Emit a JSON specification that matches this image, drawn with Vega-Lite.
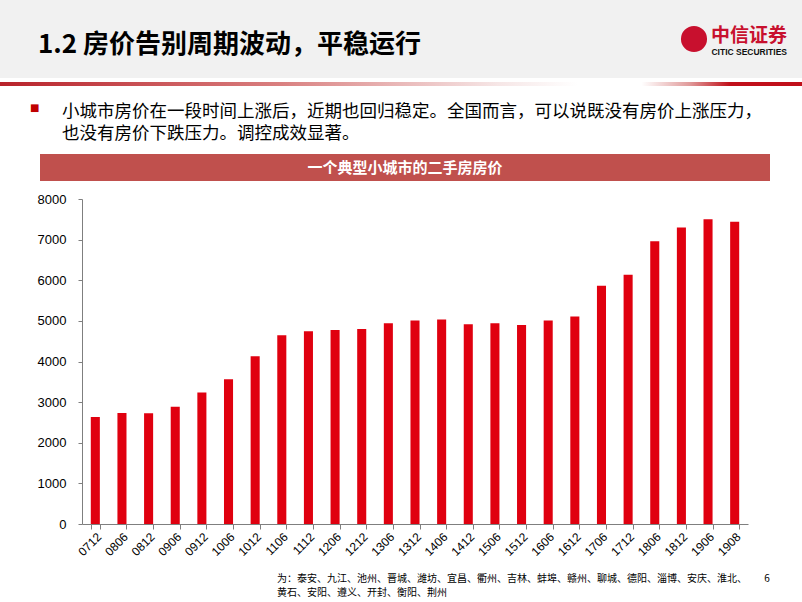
{
  "$schema": "https://vega.github.io/schema/vega-lite/v6.json",
  "background": "white",
  "padding": 0,
  "spacing": 13,
  "config": {
    "view": {"stroke": null},
    "font": "Liberation Sans, Noto Sans CJK SC",
    "title": {"frame": "group"}
  },
  "vconcat": [
    {
      "spacing": 0,
      "vconcat": [
        {
          "spacing": 0,
          "hconcat": [
            {
              "width": 586,
              "height": 78,
              "view": {"fill": "#f1f1f1", "stroke": null},
              "data": {"values": [{"t": ""}]},
              "mark": {"type": "text"},
              "encoding": {"text": {"field": "t"}},
              "title": {
                "text": "1.2 房价告别周期波动，平稳运行",
                "orient": "bottom",
                "anchor": "start",
                "offset": -46,
                "dx": 38,
                "fontSize": 26,
                "fontWeight": "bold",
                "color": "#000000",
                "font": "Noto Sans CJK SC"
              }
            },
            {
              "width": 216,
              "height": 78,
              "view": {"fill": "#f1f1f1", "stroke": null},
              "data": {"values": [{"k": "logo"}]},
              "mark": {"type": "point", "shape": "circle", "filled": true, "size": 680, "color": "#c8102e", "opacity": 1},
              "encoding": {},
              "title": {
                "text": "中信证券",
                "subtitle": "CITIC SECURITIES",
                "orient": "bottom",
                "anchor": "end",
                "offset": -51,
                "dx": -15,
                "fontSize": 19,
                "fontWeight": "bold",
                "color": "#c8102e",
                "font": "Noto Sans CJK SC",
                "subtitleFontSize": 8.5,
                "subtitleFontWeight": "bold",
                "subtitleColor": "#111111",
                "subtitleFont": "Liberation Sans",
                "subtitlePadding": 2
              }
            }
          ]
        },
        {
          "width": 802,
          "height": 4,
          "view": {
            "stroke": null,
            "fill": {
              "gradient": "linear",
              "x1": 0, "y1": 0, "x2": 1, "y2": 0,
              "stops": [
                {"offset": 0, "color": "#b8222a"},
                {"offset": 0.35, "color": "#d98080"},
                {"offset": 0.62, "color": "#f6e6e6"},
                {"offset": 0.72, "color": "#ffffff"},
                {"offset": 0.8, "color": "#ffffff"},
                {"offset": 0.86, "color": "#e09a9a"},
                {"offset": 0.91, "color": "#c0101a"},
                {"offset": 1, "color": "#c0101a"}
              ]
            }
          },
          "data": {"values": [{"t": ""}]},
          "mark": {"type": "text"},
          "encoding": {"text": {"field": "t"}}
        }
      ]
    },
    {
      "spacing": 12,
      "vconcat": [
        {
          "spacing": 0,
          "hconcat": [
            {
              "width": 40,
              "height": 27,
              "data": {"values": [{"t": ""}]},
              "mark": {"type": "text"},
              "encoding": {"text": {"field": "t"}},
              "title": {
                "text": "■",
                "orient": "top",
                "anchor": "start",
                "offset": 41,
                "dx": 30,
                "fontSize": 10,
                "fontWeight": "normal",
                "color": "#c00000",
                "font": "DejaVu Sans"
              }
            },
            {
              "width": 730,
              "height": 27,
              "view": {"fill": "#c0504d", "stroke": null},
              "data": {"values": [{"t": "一个典型小城市的二手房房价"}]},
              "mark": {"type": "text", "color": "#ffffff", "fontSize": 15, "fontWeight": "bold", "font": "Noto Sans CJK SC"},
              "encoding": {"text": {"field": "t"}},
              "title": {
                "text": ["小城市房价在一段时间上涨后，近期也回归稳定。全国而言，可以说既没有房价上涨压力，", "也没有房价下跌压力。调控成效显著。"],
                "orient": "top",
                "anchor": "start",
                "offset": 12,
                "dx": 22,
                "fontSize": 17.5,
                "fontWeight": "normal",
                "lineHeight": 22,
                "color": "#000000",
                "font": "Noto Sans CJK SC"
              }
            }
          ]
        },
        {
          "spacing": 0,
          "hconcat": [
            {
              "width": 1,
              "height": 1,
              "data": {"values": [{"t": ""}]},
              "mark": {"type": "text"},
              "encoding": {"text": {"field": "t"}}
            },
            {
              "width": 666,
              "height": 325,
              "data": {
                "values": [
                  {"t": "0712", "v": 2635},
                  {"t": "0806", "v": 2734},
                  {"t": "0812", "v": 2724},
                  {"t": "0906", "v": 2889},
                  {"t": "0912", "v": 3234},
                  {"t": "1006", "v": 3562},
                  {"t": "1012", "v": 4128},
                  {"t": "1106", "v": 4645},
                  {"t": "1112", "v": 4744},
                  {"t": "1206", "v": 4778},
                  {"t": "1212", "v": 4803},
                  {"t": "1306", "v": 4941},
                  {"t": "1312", "v": 5007},
                  {"t": "1406", "v": 5035},
                  {"t": "1412", "v": 4916},
                  {"t": "1506", "v": 4941},
                  {"t": "1512", "v": 4901},
                  {"t": "1606", "v": 5007},
                  {"t": "1612", "v": 5106},
                  {"t": "1706", "v": 5862},
                  {"t": "1712", "v": 6133},
                  {"t": "1806", "v": 6961},
                  {"t": "1812", "v": 7298},
                  {"t": "1906", "v": 7502},
                  {"t": "1908", "v": 7438}
                ]
              },
              "mark": {"type": "bar", "color": "#e0000f"},
              "encoding": {
                "x": {
                  "field": "t",
                  "type": "ordinal",
                  "sort": null,
                  "scale": {"paddingInner": 0.66, "paddingOuter": 0.33},
                  "axis": {
                    "title": null,
                    "labelAngle": -45,
                    "tickBand": "extent",
                    "labelFontSize": 12,
                    "labelColor": "#000000",
                    "domainColor": "#7f7f7f",
                    "tickColor": "#7f7f7f",
                    "tickSize": 5,
                    "labelPadding": 2
                  }
                },
                "y": {
                  "field": "v",
                  "type": "quantitative",
                  "scale": {"domain": [0, 8000]},
                  "axis": {
                    "title": null,
                    "values": [0, 1000, 2000, 3000, 4000, 5000, 6000, 7000, 8000],
                    "format": "d",
                    "grid": false,
                    "labelFontSize": 13,
                    "labelColor": "#000000",
                    "domainColor": "#7f7f7f",
                    "tickColor": "#7f7f7f",
                    "tickSize": 4,
                    "labelPadding": 12,
                    "minExtent": 81,
                    "maxExtent": 81
                  }
                }
              },
              "title": {
                "text": ["为：泰安、九江、池州、晋城、潍坊、宜昌、衢州、吉林、蚌埠、赣州、聊城、德阳、淄博、安庆、淮北、　　 6", "黄石、安阳、遵义、开封、衡阳、荆州"],
                "orient": "bottom",
                "anchor": "start",
                "offset": 16,
                "dx": 195,
                "fontSize": 10,
                "fontWeight": "normal",
                "lineHeight": 14,
                "color": "#000000",
                "font": "Noto Sans CJK SC"
              }
            }
          ]
        }
      ]
    }
  ]
}
